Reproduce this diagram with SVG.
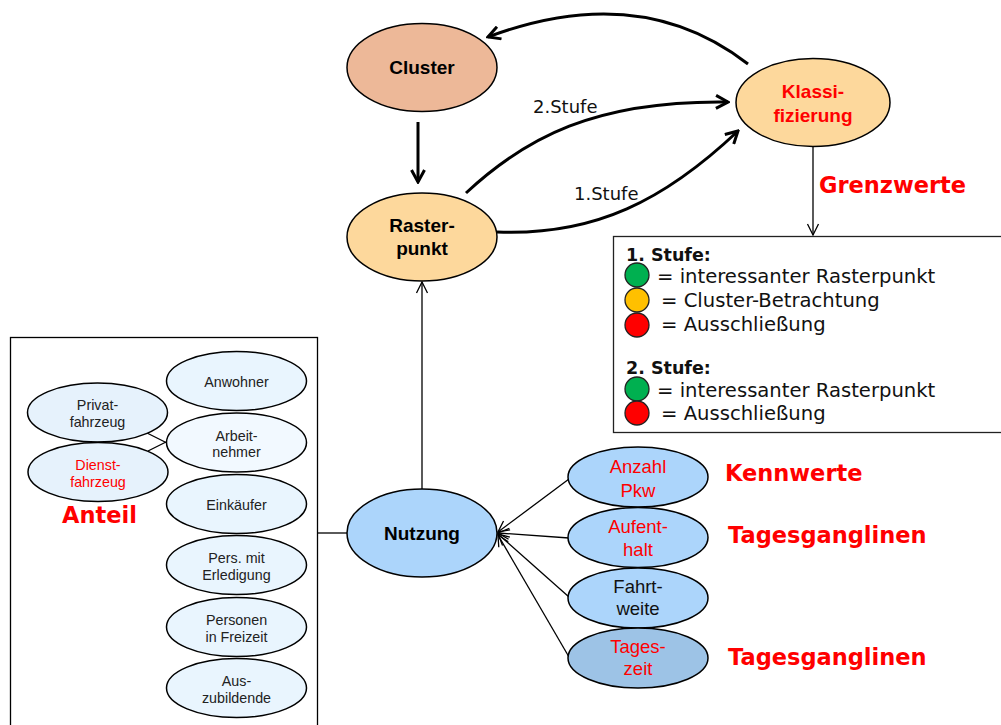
<svg xmlns="http://www.w3.org/2000/svg" width="1001" height="725" viewBox="0 0 1001 725">
<style>
.e{stroke:#000;stroke-width:1.5}
.t{font-family:"Liberation Sans",Arial,sans-serif;text-anchor:middle}
.tb{font-family:"Liberation Sans",Arial,sans-serif;font-weight:bold;text-anchor:middle;font-size:19px}
.s{font-size:14.3px;fill:#222}
.m{font-size:18.5px}
.v{font-family:"DejaVu Sans",Verdana,sans-serif}
.red{fill:#f00}
.big{font-family:"DejaVu Sans",Verdana,sans-serif;font-weight:bold;font-size:22.5px;fill:#f00}
.thick{fill:none;stroke:#000;stroke-width:3}
.thin{fill:none;stroke:#000;stroke-width:1.3}
.lg{font-family:"DejaVu Sans",Verdana,sans-serif;font-size:19.6px;fill:#111}
.lgb{font-family:"DejaVu Sans",Verdana,sans-serif;font-size:17.5px;font-weight:bold;fill:#111}
.c{stroke:#222;stroke-width:1.3}
</style>
<defs>
<marker id="ah" markerUnits="userSpaceOnUse" viewBox="0 0 16 16" markerWidth="16" markerHeight="16" refX="14" refY="8" orient="auto">
<path d="M2,1.5 L14,8 L2,14.5" fill="none" stroke="#000" stroke-width="3"/>
</marker>
<marker id="at" markerUnits="userSpaceOnUse" viewBox="0 0 14 14" markerWidth="14" markerHeight="14" refX="13" refY="7" orient="auto">
<path d="M2,1.5 L13,7 L2,12.5" fill="none" stroke="#000" stroke-width="1.3"/>
</marker>
</defs>

<g id="connectors">
<path class="thick" d="M418,122 L418,182" marker-end="url(#ah)"/>
<path class="thick" d="M748,64 Q640,-20 488,37" marker-end="url(#ah)"/>
<path class="thick" d="M466,193 C525,138 595,100 728,102" marker-end="url(#ah)"/>
<path class="thick" d="M497,232 C595,236 665,200 738,131" marker-end="url(#ah)"/>
<path class="thin" d="M813,147 L813,235" marker-end="url(#at)"/>
<path class="thin" d="M422,490 L422,282" marker-end="url(#at)"/>
<path class="thin" d="M317,533 L347,533"/>
<path class="thin" d="M569,479 L498,532" marker-end="url(#at)"/>
<path class="thin" d="M569,538 L498,533" marker-end="url(#at)"/>
<path class="thin" d="M569,597 L498,534" marker-end="url(#at)"/>
<path class="thin" d="M569,657 L498,535" marker-end="url(#at)"/>
<path class="thin" d="M147,433 L167,443"/>
<path class="thin" d="M148,451 L166,442"/>
<text class="v" x="533" y="113" font-size="18" fill="#111">2.Stufe</text>
<text class="v" x="574" y="200" font-size="18" fill="#111">1.Stufe</text>
</g>

<g id="cluster">
<ellipse class="e" cx="422" cy="67.5" rx="75" ry="44" fill="#edb898"/>
<text class="tb" x="422" y="74">Cluster</text>
</g>
<g id="rasterpunkt">
<ellipse class="e" cx="422" cy="237" rx="75" ry="44" fill="#fdd89c"/>
<text class="tb" x="422" y="232">Raster-</text>
<text class="tb" x="422" y="255">punkt</text>
</g>
<g id="klassifizierung">
<ellipse class="e" cx="813" cy="102.5" rx="77" ry="44" fill="#fdd89c"/>
<text class="tb red" x="813" y="98">Klassi-</text>
<text class="tb red" x="813" y="122">fizierung</text>
</g>
<g id="grenzwerte-label">
<text class="big" x="819" y="193">Grenzwerte</text>
</g>

<g id="legend">
<rect x="613.5" y="236.5" width="400" height="196" fill="#fff" stroke="#222" stroke-width="1.3"/>
<text class="lgb" x="626" y="261">1. Stufe:</text>
<circle class="c" cx="637" cy="275" r="12" fill="#00b050"/>
<text class="lg" x="657" y="283">= interessanter Rasterpunkt</text>
<circle class="c" cx="637" cy="300" r="12" fill="#ffc000"/>
<text class="lg" x="661" y="307">= Cluster-Betrachtung</text>
<circle class="c" cx="637" cy="325" r="12" fill="#f00"/>
<text class="lg" x="661" y="331">= Ausschließung</text>
<text class="lgb" x="626" y="374">2. Stufe:</text>
<circle class="c" cx="637" cy="389" r="12" fill="#00b050"/>
<text class="lg" x="657" y="397">= interessanter Rasterpunkt</text>
<circle class="c" cx="637" cy="413" r="12" fill="#f00"/>
<text class="lg" x="661" y="420">= Ausschließung</text>
</g>

<g id="nutzung">
<ellipse class="e" cx="422" cy="533" rx="75" ry="44" fill="#acd5fb"/>
<text class="tb" x="422" y="540">Nutzung</text>
</g>

<g id="anteil-box">
<rect x="10.5" y="337.5" width="307" height="400" fill="none" stroke="#000" stroke-width="1.3"/>
<text class="big" x="62" y="523">Anteil</text>
</g>
<g id="privatfahrzeug">
<ellipse class="e" cx="97.5" cy="412.5" rx="70" ry="29.5" fill="#e6f2fc"/>
<text class="t s" x="97.5" y="410">Privat-</text>
<text class="t s" x="97.5" y="427">fahrzeug</text>
</g>
<g id="dienstfahrzeug">
<ellipse class="e" cx="98" cy="472" rx="70" ry="29.5" fill="#e6f2fc"/>
<text class="t s" x="98" y="470" style="fill:#f00">Dienst-</text>
<text class="t s" x="98" y="487" style="fill:#f00">fahrzeug</text>
</g>
<g id="anwohner">
<ellipse class="e" cx="236.5" cy="381" rx="70" ry="29.5" fill="#e9f5fe"/>
<text class="t s" x="236.5" y="387">Anwohner</text>
</g>
<g id="arbeitnehmer">
<ellipse class="e" cx="236.5" cy="442.5" rx="70" ry="29.5" fill="#f2f9ff"/>
<text class="t s" x="236.5" y="441">Arbeit-</text>
<text class="t s" x="236.5" y="457">nehmer</text>
</g>
<g id="einkaeufer">
<ellipse class="e" cx="236.5" cy="504" rx="70" ry="29.5" fill="#e9f5fe"/>
<text class="t s" x="236.5" y="510">Einkäufer</text>
</g>
<g id="erledigung">
<ellipse class="e" cx="236.5" cy="565" rx="70" ry="29.5" fill="#e9f5fe"/>
<text class="t s" x="236.5" y="563">Pers. mit</text>
<text class="t s" x="236.5" y="580">Erledigung</text>
</g>
<g id="freizeit">
<ellipse class="e" cx="236.5" cy="627" rx="70" ry="29.5" fill="#e9f5fe"/>
<text class="t s" x="236.5" y="625">Personen</text>
<text class="t s" x="236.5" y="642">in Freizeit</text>
</g>
<g id="auszubildende">
<ellipse class="e" cx="236.5" cy="688" rx="70" ry="29.5" fill="#e9f5fe"/>
<text class="t s" x="236.5" y="686">Aus-</text>
<text class="t s" x="236.5" y="703">zubildende</text>
</g>

<g id="anzahl-pkw">
<ellipse class="e" cx="638" cy="477" rx="70" ry="30" fill="#acd5fb"/>
<text class="t m red" x="638" y="473">Anzahl</text>
<text class="t m red" x="638" y="497">Pkw</text>
</g>
<g id="aufenthalt">
<ellipse class="e" cx="638" cy="537.5" rx="70" ry="30" fill="#acd5fb"/>
<text class="t m red" x="638" y="533">Aufent-</text>
<text class="t m red" x="638" y="556">halt</text>
</g>
<g id="fahrtweite">
<ellipse class="e" cx="638" cy="598" rx="70" ry="30" fill="#acd5fb"/>
<text class="t m" x="638" y="593" fill="#111">Fahrt-</text>
<text class="t m" x="638" y="615" fill="#111">weite</text>
</g>
<g id="tageszeit">
<ellipse class="e" cx="638" cy="658" rx="70" ry="30" fill="#9dc3e6"/>
<text class="t m red" x="638" y="653">Tages-</text>
<text class="t m red" x="638" y="675">zeit</text>
</g>
<g id="labels">
<text class="big" x="725" y="481">Kennwerte</text>
<text class="big" x="728" y="543">Tagesganglinen</text>
<text class="big" x="728" y="665">Tagesganglinen</text>
</g>
</svg>
